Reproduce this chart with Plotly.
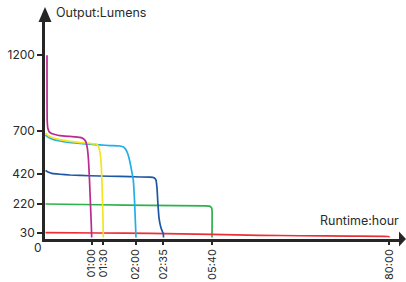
import plotly.graph_objects as go

# ---- data (x in chart scale units, y in lumens) ----
tick_pos = [46.7, 58.3, 90.7, 118.3, 167, 344.3]
tick_text = ["01:00", "01:30", "02:00", "02:35", "05:40", "80:00"]
y_ticks = [30, 220, 420, 700, 1200]

magenta_x = [2, 2.2, 2.8, 4, 6, 10, 15, 25, 35, 38, 40.5, 42.3, 43.5, 44.5, 45.5, 46.3, 46.7]
magenta_y = [1200, 773, 721, 698, 686, 678, 671, 665, 659, 652, 635, 589, 510, 378, 213, 82, 0]

yellow_x = [0.5, 3, 7, 15, 25, 35, 45, 51, 53, 54.5, 55.7, 56.7, 57.5, 58, 58.3]
yellow_y = [688, 671, 658, 644, 633, 625, 619, 615, 605, 576, 523, 411, 246, 115, 0]

lightblue_x = [0.5, 3, 8, 15, 22, 35, 45, 55, 65, 75, 78.5, 80.5, 82.5, 84.5, 86.5, 88.3, 89.5, 90.3, 91]
lightblue_y = [675, 661, 646, 635, 627, 619, 614, 609, 605, 602, 596, 582, 556, 510, 444, 378, 246, 115, 0]

darkblue_x = [0.5, 3, 7, 15, 25, 45, 65, 85, 105, 109, 111, 112, 113, 114, 115.5, 117, 118.3, 118.5]
darkblue_y = [441, 431, 422, 416, 411, 406, 403, 400, 397, 393, 378, 325, 213, 128, 75, 45, 26, 0]

green_x = [0.5, 55, 105, 160, 164.5, 166.3, 167, 167]
green_y = [220, 215, 211, 208, 206, 197, 181, 0]

red_x = [0.5, 55, 105, 167, 215, 255, 305, 343, 344.3, 344.3]
red_y = [32, 29, 26, 20, 14, 11, 8, 6, 2, 0]

series = [
    (green_x, green_y, "#2bb24c"),
    (red_x, red_y, "#ec2f36"),
    (darkblue_x, darkblue_y, "#1d56a6"),
    (lightblue_x, lightblue_y, "#22aee8"),
    (yellow_x, yellow_y, "#f4e51c"),
    (magenta_x, magenta_y, "#bb2a90"),
]

FONT = "Inter"
AX = "#262626"
TXT = "#2b2b2b"

fig = go.Figure()
for xs, ys, c in series:
    fig.add_trace(go.Scatter(x=xs, y=ys, mode="lines",
                             line=dict(color=c, width=1.7, shape="spline", smoothing=0.4),
                             hoverinfo="skip", showlegend=False))

W, H = 406, 282
L, R, T, B = 45, 7, 22, 43
pw, ph = W - L - R, H - T - B

def px(xp):
    return (xp - L) / pw

def py(yp):
    return (H - B - yp) / ph

shapes = [
    dict(type="path", xref="paper", yref="paper",
         path=f"M {px(38.5)},{py(22)} L {px(51.5)},{py(22)} L {px(45)},{py(7)} Z",
         fillcolor=AX, line=dict(width=0)),
    dict(type="path", xref="paper", yref="paper",
         path=f"M {px(399)},{py(231.5)} L {px(399)},{py(246.5)} L {px(406)},{py(239)} Z",
         fillcolor=AX, line=dict(width=0)),
]

fig.update_layout(
    width=W, height=H,
    margin=dict(l=L, r=R, t=T, b=B, pad=0, autoexpand=False),
    paper_bgcolor="white", plot_bgcolor="white",
    font=dict(family=FONT, size=12, color=TXT),
    shapes=shapes,
    xaxis=dict(range=[0, pw], tickvals=tick_pos, ticktext=tick_text, automargin=False,
               tickangle=-90, ticks="outside", ticklen=3, tickwidth=1.5, tickcolor=AX,
               showline=True, linecolor=AX, linewidth=2.5, showgrid=False, zeroline=False,
               tickfont=dict(family=FONT, size=11, color=TXT), fixedrange=True),
    yaxis=dict(range=[-10.5, 1419], tickvals=y_ticks, ticks="outside", ticklen=5,
               tickwidth=1.5, tickcolor=AX, automargin=False,
               showline=True, linecolor=AX, linewidth=2.5, showgrid=False, zeroline=False,
               tickfont=dict(family=FONT, size=12, color=TXT), fixedrange=True),
    annotations=[
        dict(text="Output:Lumens", xref="paper", yref="paper", x=px(54), y=py(12.5),
             xanchor="left", yanchor="middle", showarrow=False,
             font=dict(family=FONT, size=12.5, color=TXT)),
        dict(text="Runtime:hour", xref="paper", yref="paper", x=px(401), y=py(220),
             xanchor="right", yanchor="middle", showarrow=False,
             font=dict(family=FONT, size=12.5, color=TXT)),
        dict(text="0", xref="paper", yref="paper", x=px(37.5), y=py(247.5),
             xanchor="center", yanchor="middle", showarrow=False,
             font=dict(family=FONT, size=12, color=TXT)),
    ],
)

fig.write_html("out.html", config={"displayModeBar": False},
               post_script="document.body.style.margin='0';document.body.style.overflow='hidden';")
